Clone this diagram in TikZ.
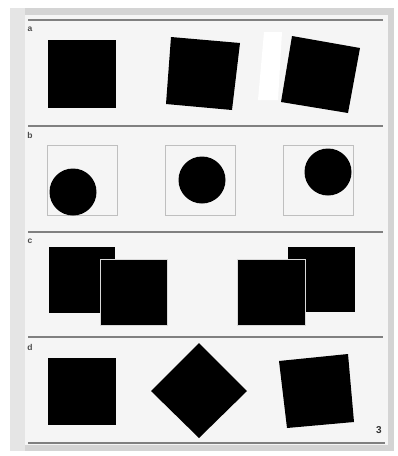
\documentclass[tikz,border=0pt]{standalone}
\usepackage{fontspec}
\setmainfont{Liberation Sans}
\begin{document}
\begin{tikzpicture}[x=1pt,y=-1pt,
  sep/.style={draw=black!50,line width=1.1pt},
  blk/.style={fill=black},
  lbl/.style={font=\bfseries\fontsize{8.5}{8.5}\selectfont,text=black!70,inner sep=0pt},
  frame/.style={draw=black!25,line width=0.6pt}]
\useasboundingbox (0,0) rectangle (397,456);
\fill[white] (0,0) rectangle (397,456);
% shadow and paper
\fill[black!17] (10,8) rectangle (394,451);
\fill[black!10] (10,8) rectangle (25,451);
\fill[black!4] (25,15) rectangle (388,445);
% separator lines
\draw[sep] (28,20) -- (383,20);
\draw[sep] (28,126) -- (383,126);
\draw[sep] (28,232) -- (383,232);
\draw[sep] (28,337) -- (383,337);
\draw[sep] (28,443) -- (385,443);
% labels
\node[lbl] (la) at (30,29) {a};
\node[lbl] (lb) at (30,135) {b};
\node[lbl] (lc) at (30,241) {c};
\node[lbl] (ld) at (30,347) {d};
\node[font=\bfseries\fontsize{10}{10}\selectfont,text=black!80,inner sep=0pt] (n3) at (379,430) {3};
% panel a
\fill[blk] (48,40) rectangle (116,108);
\fill[blk] (171,37) -- (240,43) -- (232,110) -- (166,104) -- cycle;
\fill[white] (264,32) -- (282,32) -- (278,100) -- (258,100) -- cycle;
\fill[blk] (292,36) -- (360,48) -- (348,113) -- (281,102) -- cycle;
% panel b
\draw[frame] (47,145) rectangle (117,215);
\draw[frame] (165,145) rectangle (235,215);
\draw[frame] (283,145) rectangle (353,215);
\fill[blk] (73,192) circle (23.5);
\fill[blk] (202,180) circle (23.5);
\fill[blk] (328,172) circle (23.5);
% panel c
\fill[blk] (49,247) rectangle (115,313);
\filldraw[blk,draw=black!15,line width=1pt] (100,259) rectangle (167,325);
\fill[blk] (288,247) rectangle (355,312);
\filldraw[blk,draw=black!15,line width=1pt] (237,259) rectangle (305,325);
% panel d
\fill[blk] (48,358) rectangle (116,425);
\fill[blk] (199,343) -- (247,391) -- (199,438) -- (151,391) -- cycle;
\fill[blk] (279,361) -- (348,354) -- (354,422) -- (287,428) -- cycle;
\end{tikzpicture}
\end{document}
